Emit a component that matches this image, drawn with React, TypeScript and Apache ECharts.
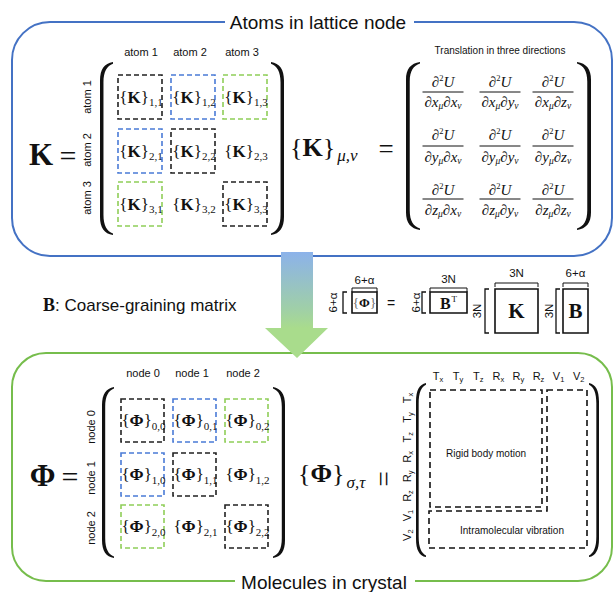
import React, { useEffect, useRef } from 'react';
import * as echarts from 'echarts';

const SANS = '"Liberation Sans", Arial, sans-serif';
const SERIF = '"Liberation Serif", "Times New Roman", serif';
const INK = '#111111';

// Texts
const TOP_TITLE = 'Atoms in lattice node';
const BOTTOM_TITLE = 'Molecules in crystal';
const TRANSLATION_NOTE = 'Translation in three directions';
const RIGID_NOTE = 'Rigid body motion';
const VIB_NOTE = 'Intramolecular vibration';
const COARSE_TEXT = ': Coarse-graining matrix';

// Block matrices
const atomLabels = ['atom 1', 'atom 2', 'atom 3'];
const atomIndex = ['1', '2', '3'];
const nodeLabels = ['node 0', 'node 1', 'node 2'];
const nodeIndex = ['0', '1', '2'];
// 0 = no frame, 1 = diagonal (black), 2 = blue, 3 = green
const blockPattern = [
  [1, 2, 3],
  [2, 1, 0],
  [3, 0, 1],
];
const blockColors = ['', '#222222', '#4a7bd6', '#8fce58'];
const cartesian = ['x', 'y', 'z'];
const motionLabels: [string, string][] = [
  ['T', 'x'], ['T', 'y'], ['T', 'z'],
  ['R', 'x'], ['R', 'y'], ['R', 'z'],
  ['V', '1'], ['V', '2'],
];

// Tall round bracket outline (12 x 170 unit box)
const PAREN_D =
  'M12,0 C4,1.5 0,7 0,18 L0,152 C0,163 4,168.5 12,170 L12,168.4 C6.5,166.3 3.2,161 3.2,150 L3.2,20 C3.2,9 6.5,3.7 12,1.6 Z';
echarts.graphic.registerShape('parenL', echarts.graphic.extendPath(PAREN_D, {}) as any);

let measureCtx: CanvasRenderingContext2D | null = null;

type Piece = {
  t: string;
  size: number;
  family?: string;
  weight?: string;
  italic?: boolean;
  dy?: number;
  gap?: number;
  fill?: string;
};

function cssFont(p: Piece) {
  return `${p.italic ? 'italic' : 'normal'} ${p.weight ?? 'normal'} ${p.size}px ${p.family ?? SERIF}`;
}

function textWidth(p: Piece) {
  if (!measureCtx) measureCtx = document.createElement('canvas').getContext('2d');
  measureCtx!.font = cssFont(p);
  return measureCtx!.measureText(p.t).width;
}

// Lays out a row of text pieces (base text, sub/superscripts) side by side
function run(x: number, y: number, pieces: Piece[], align: 'left' | 'center' | 'right' = 'center', z = 6) {
  const widths = pieces.map((p) => textWidth(p) + (p.gap ?? 0));
  const total = widths.reduce((a, b) => a + b, 0);
  let cx = align === 'left' ? x : align === 'center' ? x - total / 2 : x - total;
  return pieces.map((p, i) => {
    const el = {
      type: 'text',
      x: cx,
      y: y + (p.dy ?? 0),
      z,
      style: {
        text: p.t,
        fontSize: p.size,
        fontFamily: p.family ?? SERIF,
        fontWeight: p.weight ?? 'normal',
        fontStyle: p.italic ? 'italic' : 'normal',
        fill: p.fill ?? INK,
        textAlign: 'left',
        textVerticalAlign: 'middle',
      },
    };
    cx += widths[i];
    return el;
  });
}

function rotated(x: number, y: number, pieces: Piece[]) {
  return { type: 'group', x, y, rotation: Math.PI / 2, children: run(0, 0, pieces, 'center') };
}

function paren(x: number, y: number, w: number, h: number, right = false) {
  return {
    type: 'parenL',
    x,
    y,
    scaleX: right ? -w / 12 : w / 12,
    scaleY: h / 170,
    z: 4,
    style: { fill: INK },
  };
}

function line(points: number[][], width = 1, color = INK) {
  return { type: 'polyline', z: 4, shape: { points }, style: { stroke: color, lineWidth: width, fill: 'none' } };
}

function blockMatrix(colL: number[], rowT: number[], size: number, sym: string, idx: string[]) {
  const out: any[] = [];
  for (let r = 0; r < 3; r++) {
    for (let c = 0; c < 3; c++) {
      const k = blockPattern[r][c];
      const cx = colL[c] + size / 2;
      const cy = rowT[r] + size / 2;
      if (k) {
        out.push({
          type: 'rect',
          z: 4,
          shape: { x: colL[c], y: rowT[r], width: size, height: size },
          style: { fill: 'none', stroke: blockColors[k], lineWidth: 1.6, lineDash: [5, 3] },
        });
      }
      out.push(
        ...run(cx + 1, cy, [
          { t: '{', size: 17 },
          { t: sym, size: 17, weight: 'bold' },
          { t: '}', size: 17 },
          { t: `${idx[r]},${idx[c]}`, size: 11, dy: 5 },
        ])
      );
    }
  }
  return out;
}

function rowDim(label: string, tx: number, yTop: number, yBot: number, bx: number) {
  return [
    rotated(tx, (yTop + yBot) / 2, [{ t: label, size: 11.5, family: SANS }]),
    line([[bx + 4, yTop], [bx, yTop], [bx, yBot], [bx + 4, yBot]], 1.3),
  ];
}

function colDim(label: string, xL: number, xR: number, yLine: number, yText: number) {
  return [
    line([[xL, yLine + 4], [xL, yLine], [xR, yLine], [xR, yLine + 4]], 1),
    ...run((xL + xR) / 2, yText, [{ t: label, size: 11.5, family: SANS }]),
  ];
}

function solidBox(x: number, y: number, w: number, h: number) {
  return {
    type: 'rect',
    z: 4,
    shape: { x, y, width: w, height: h },
    style: { fill: '#fff', stroke: INK, lineWidth: 1.6 },
  };
}

function buildElements() {
  const els: any[] = [];

  // ---------- upper panel: atoms ----------
  els.push({
    type: 'rect',
    z: 2,
    shape: { x: 12, y: 22, width: 600, height: 234, r: 38 },
    style: { fill: 'none', stroke: '#4472C4', lineWidth: 2 },
  });
  els.push({ type: 'rect', z: 3, shape: { x: 225, y: 10, width: 189, height: 24 }, style: { fill: '#fff' } });
  els.push(...run(318, 22, [{ t: TOP_TITLE, size: 19, family: SANS }]));

  els.push(...run(41, 154, [{ t: 'K', size: 31, weight: 'bold' }]));
  els.push(...run(68, 155, [{ t: '=', size: 30 }]));

  const atomColC = [141, 190, 242];
  atomLabels.forEach((l, i) => els.push(...run(atomColC[i], 52, [{ t: l, size: 11, family: SANS }])));
  const atomRowC = [97, 150, 198];
  atomLabels.forEach((l, i) => els.push(rotated(87, atomRowC[i], [{ t: l, size: 11, family: SANS }])));

  els.push(paren(100, 62, 13, 173));
  els.push(paren(284, 62, 13, 173, true));
  els.push(...blockMatrix([118, 171, 223], [75, 129, 182], 44, 'K', atomIndex));

  // {K}_{mu,nu} = [second derivatives]
  els.push(
    ...run(290, 147, [
      { t: '{', size: 26 },
      { t: 'K', size: 26, weight: 'bold' },
      { t: '}', size: 26, gap: 2 },
      { t: 'μ,ν', size: 17, italic: true, dy: 8 },
    ], 'left')
  );
  els.push(...run(386, 149, [{ t: '=', size: 27 }]));
  els.push(...run(500, 50, [{ t: TRANSLATION_NOTE, size: 10, family: SANS }]));
  els.push(paren(406, 62, 14, 168));
  els.push(paren(591, 62, 14, 168, true));

  const fracCol = [443, 500, 553];
  const numY = [82, 135, 190];
  const barY = [92, 146, 199];
  const denY = [102, 157, 210];
  for (let r = 0; r < 3; r++) {
    for (let c = 0; c < 3; c++) {
      els.push(
        ...run(fracCol[c], numY[r], [
          { t: '∂', size: 15, italic: true },
          { t: '2', size: 8.5, dy: -4 },
          { t: 'U', size: 15, italic: true },
        ])
      );
      els.push(line([[fracCol[c] - 20.5, barY[r]], [fracCol[c] + 20.5, barY[r]]], 1));
      els.push(
        ...run(fracCol[c], denY[r], [
          { t: '∂', size: 15, italic: true },
          { t: cartesian[r], size: 15, italic: true },
          { t: 'μ', size: 9.5, italic: true, dy: 3.5 },
          { t: '∂', size: 15, italic: true },
          { t: cartesian[c], size: 15, italic: true },
          { t: 'ν', size: 9.5, italic: true, dy: 3.5 },
        ])
      );
    }
  }

  // ---------- coarse-graining step ----------
  els.push({
    type: 'polygon',
    z: 8,
    shape: {
      points: [
        [281, 252], [313, 252], [313, 328], [328, 328], [297, 358], [265, 328], [281, 328],
      ],
    },
    style: {
      fill: new echarts.graphic.LinearGradient(0, 0, 0, 1, [
        { offset: 0, color: '#8cb2ea' },
        { offset: 0.55, color: '#a0d0a6' },
        { offset: 0.72, color: '#a9dc8c' },
        { offset: 1, color: '#a9dc8c' },
      ]),
    },
  });
  els.push(
    ...run(43, 305, [
      { t: 'B', size: 18, weight: 'bold' },
      { t: COARSE_TEXT, size: 17, family: SANS },
    ], 'left')
  );

  // Phi block
  els.push(...rowDim('6+α', 333, 292, 313, 343));
  els.push(solidBox(352, 292, 25, 21));
  els.push(...colDim('6+α', 352, 377, 288, 280));
  els.push(
    ...run(364.5, 302.5, [
      { t: '{', size: 13, fill: '#666' },
      { t: 'Φ', size: 13, weight: 'bold' },
      { t: '}', size: 13, fill: '#666' },
    ])
  );
  els.push(...run(391, 303, [{ t: '=', size: 14, family: SANS }]));
  // B transpose block
  els.push(...rowDim('6+α', 416, 292, 313, 422));
  els.push(solidBox(430, 292, 37, 21));
  els.push(...colDim('3N', 430, 467, 288, 279));
  els.push(
    ...run(448.5, 303, [
      { t: 'B', size: 16, weight: 'bold', gap: 1 },
      { t: 'T', size: 9, dy: -4 },
    ])
  );
  // K block
  els.push(...rowDim('3N', 477, 289, 333, 485));
  els.push(solidBox(495, 289, 43, 44));
  els.push(...colDim('3N', 495, 538, 283, 273));
  els.push(...run(516.5, 311, [{ t: 'K', size: 21, weight: 'bold' }]));
  // B block
  els.push(...rowDim('3N', 549, 289, 333, 556));
  els.push(solidBox(563, 289, 25, 44));
  els.push(...colDim('6+α', 563, 588, 283, 273));
  els.push(...run(575.5, 311, [{ t: 'B', size: 21, weight: 'bold' }]));

  // ---------- lower panel: molecules ----------
  els.push({
    type: 'rect',
    z: 2,
    shape: { x: 12, y: 353, width: 600, height: 228, r: 34 },
    style: { fill: 'none', stroke: '#76bd4c', lineWidth: 2 },
  });
  els.push({ type: 'rect', z: 3, shape: { x: 235, y: 570, width: 180, height: 22 }, style: { fill: '#fff' } });
  els.push(...run(324, 582, [{ t: BOTTOM_TITLE, size: 19, family: SANS }]));

  els.push(...run(42.5, 475, [{ t: 'Φ', size: 31, weight: 'bold' }]));
  els.push(...run(70, 476, [{ t: '=', size: 30 }]));

  const nodeColC = [143, 192, 243];
  nodeLabels.forEach((l, i) => els.push(...run(nodeColC[i], 373, [{ t: l, size: 11, family: SANS }])));
  const nodeRowC = [427, 478, 528];
  nodeLabels.forEach((l, i) => els.push(rotated(91, nodeRowC[i], [{ t: l, size: 11, family: SANS }])));

  els.push(paren(102, 387, 12, 171));
  els.push(paren(285, 387, 12, 171, true));
  els.push(...blockMatrix([121, 173, 225], [399, 453, 505], 43, 'Φ', nodeIndex));

  // {Phi}_{sigma,tau} = [motion blocks]
  els.push(
    ...run(298, 473, [
      { t: '{', size: 26 },
      { t: 'Φ', size: 26, weight: 'bold' },
      { t: '}', size: 26, gap: 2 },
      { t: 'σ,τ', size: 17, italic: true, dy: 9 },
    ], 'left')
  );
  els.push(rotated(384, 479, [{ t: '=', size: 27 }]));

  motionLabels.forEach(([b, s], i) => {
    els.push(
      ...run(438 + 20.1 * i, 376, [
        { t: b, size: 11, family: SANS },
        { t: s, size: 7.5, family: SANS, dy: 3 },
      ])
    );
    els.push(
      rotated(407, 398 + 19.6 * i, [
        { t: b, size: 11, family: SANS },
        { t: s, size: 7.5, family: SANS, dy: 3 },
      ])
    );
  });

  els.push(paren(416, 383, 10, 174));
  els.push(paren(599, 383, 10, 174, true));

  els.push({
    type: 'rect',
    z: 4,
    shape: { x: 430, y: 390, width: 112, height: 117 },
    style: { fill: 'none', stroke: INK, lineWidth: 1.6, lineDash: [6, 4] },
  });
  els.push({
    type: 'polygon',
    z: 4,
    shape: { points: [[547, 390], [587, 390], [587, 548], [429, 548], [429, 511], [547, 511]] },
    style: { fill: 'none', stroke: INK, lineWidth: 1.6, lineDash: [6, 4] },
  });
  els.push(...run(486, 453, [{ t: RIGID_NOTE, size: 10, family: SANS }]));
  els.push(...run(512, 530, [{ t: VIB_NOTE, size: 10, family: SANS }]));

  return els;
}

export default function App() {
  const ref = useRef<HTMLDivElement>(null);

  useEffect(() => {
    document.body.style.margin = '0';
    if (!ref.current) return;
    const chart = echarts.init(ref.current, undefined, { renderer: 'svg' });
    chart.setOption({
      animation: false,
      backgroundColor: '#ffffff',
      graphic: { elements: buildElements() },
    });
    return () => chart.dispose();
  }, []);

  return <div ref={ref} style={{ width: 614, height: 592 }} />;
}
